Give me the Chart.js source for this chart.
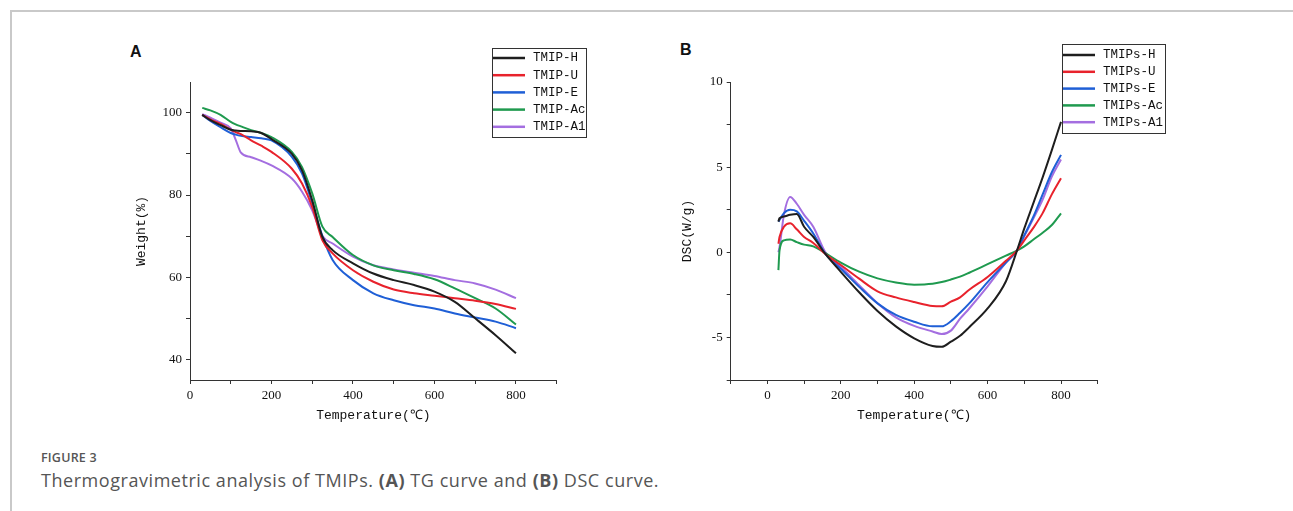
<!DOCTYPE html>
<html>
<head>
<meta charset="utf-8">
<script src="https://cdn.jsdelivr.net/npm/chart.js@4.4.0/dist/chart.umd.min.js"></script>
<style>
  body { margin: 0; background: #fff; width: 1293px; height: 511px; overflow: hidden; position: relative; }
  .frame { position: absolute; left: 10px; top: 10px; right: 0; bottom: 0; border-top: 2px solid #c9c9c9; border-left: 2px solid #c9c9c9; }
  .panel { position: absolute; }
  .letter { position: absolute; font: bold 16px "Liberation Sans", Arial, sans-serif; color: #111; }
  .fig { position: absolute; left: 41px; top: 449px; font: 600 12.5px "Open Sans", sans-serif; color: #555; letter-spacing: 0.2px; }
  .cap { position: absolute; left: 41px; top: 468px; font: 18px "Open Sans", sans-serif; color: #555; letter-spacing: 0.55px; }
  .cap b { font-weight: 700; }
</style>
</head>
<body>
<div class="frame"></div>
<div class="letter" style="left:130px;top:43px">A</div>
<div class="letter" style="left:680px;top:41px">B</div>
<div class="panel" style="left:120px;top:40px;width:480px;height:410px"><canvas id="tg"></canvas></div>
<div class="panel" style="left:670px;top:40px;width:510px;height:410px"><canvas id="dsc"></canvas></div>
<div class="fig">FIGURE 3</div>
<div class="cap">Thermogravimetric analysis of TMIPs. <b>(A)</b> TG curve and <b>(B)</b> DSC curve.</div>
<script>
// TG curve (A)
const tgTemp = [30, 50, 75, 100, 112, 125, 150, 175, 200, 250, 275, 300, 325, 350, 400, 450, 500, 550, 600, 650, 700, 750, 800];
const tgH  = [99.5, 98.2, 97.0, 95.9, 95.7, 95.6, 95.5, 95.1, 93.6, 90.0, 86.0, 78.7, 69.8, 66.6, 63.4, 60.9, 59.3, 58.1, 56.5, 54.0, 50.0, 45.9, 41.5];
const tgU  = [99.5, 98.4, 97.3, 95.9, 95.3, 94.8, 93.3, 92.0, 90.5, 86.4, 82.8, 77.1, 69.0, 65.8, 61.7, 58.9, 57.0, 56.1, 55.5, 54.9, 54.3, 53.5, 52.3];
const tgE  = [99.5, 98.0, 96.5, 95.1, 94.7, 94.4, 94.1, 93.8, 93.3, 89.3, 85.2, 78.0, 70.0, 64.2, 59.3, 56.1, 54.4, 53.2, 52.4, 51.2, 50.2, 49.2, 47.6];
const tgAc = [101.2, 100.6, 99.5, 97.8, 97.2, 96.7, 95.8, 95.1, 94.1, 90.5, 86.8, 80.4, 72.3, 69.8, 65.4, 62.9, 61.7, 60.8, 59.5, 57.3, 54.9, 52.4, 48.5];
const tgA1 = [99.7, 98.8, 97.6, 96.2, 93.5, 90.3, 89.2, 88.3, 87.2, 84.0, 80.8, 76.3, 70.0, 68.2, 65.0, 62.9, 61.9, 61.1, 60.3, 59.3, 58.5, 57.0, 54.9];
const tgNames = ['TMIP-H', 'TMIP-U', 'TMIP-E', 'TMIP-Ac', 'TMIP-A1'];
const tgXTicks = [0, 100, 200, 300, 400, 500, 600, 700, 800, 900];
const tgXLabels = ['0', '200', '400', '600', '800'];
const tgYTicks = [40, 50, 60, 70, 80, 90, 100];
const tgYLabels = ['40', '60', '80', '100'];

// DSC curve (B)
const dscTemp = [30, 33, 45, 62, 80, 100, 125, 158, 200, 250, 300, 350, 400, 450, 475, 500, 525, 550, 600, 650, 680, 700, 725, 750, 775, 800];
const dscH  = [1.8, 2.0, 2.1, 2.2, 2.25, 1.5, 0.9, -0.1, -1.15, -2.35, -3.45, -4.35, -5.05, -5.5, -5.55, -5.25, -4.9, -4.4, -3.3, -1.7, 0.1, 1.4, 2.9, 4.4, 6.0, 7.66];
const dscU  = [0.5, 0.9, 1.5, 1.7, 1.35, 0.9, 0.55, -0.1, -0.75, -1.55, -2.29, -2.65, -2.92, -3.15, -3.17, -2.9, -2.65, -2.2, -1.45, -0.5, 0.1, 0.7, 1.45, 2.3, 3.4, 4.35];
const dscE  = [1.8, 1.9, 2.3, 2.5, 2.4, 1.85, 1.1, -0.1, -0.97, -2.03, -3.0, -3.68, -4.08, -4.35, -4.35, -4.05, -3.55, -3.0, -1.75, -0.6, 0.1, 1.0, 2.1, 3.4, 4.7, 5.72];
const dscAc = [-1.05, 0.1, 0.7, 0.75, 0.6, 0.45, 0.35, -0.05, -0.6, -1.14, -1.53, -1.77, -1.9, -1.85, -1.75, -1.6, -1.43, -1.2, -0.7, -0.2, 0.1, 0.35, 0.75, 1.15, 1.6, 2.29];
const dscA1 = [0.0, 0.3, 2.2, 3.25, 2.85, 2.2, 1.5, 0.0, -0.85, -1.93, -2.99, -3.82, -4.32, -4.65, -4.8, -4.6, -3.9, -3.3, -2.0, -0.6, 0.1, 0.95, 2.0, 3.1, 4.45, 5.45];
const dscNames = ['TMIPs-H', 'TMIPs-U', 'TMIPs-E', 'TMIPs-Ac', 'TMIPs-A1'];
const dscXTicks = [-100, 0, 100, 200, 300, 400, 500, 600, 700, 800, 900];
const dscXLabels = ['0', '200', '400', '600', '800'];
const dscYTicks = [-7.5, -5, -2.5, 0, 2.5, 5, 7.5, 10];
const dscYLabels = ['-5', '0', '5', '10'];

const colors = ['#1e1e1e', '#e8222c', '#1f5fd6', '#1f9a4f', '#a46ee0'];
const mono = '"Liberation Mono", "DejaVu Sans Mono", monospace';
const serif = '"Liberation Serif", "DejaVu Serif", serif';

function makeSets(temps, series, names, width) {
  return series.map((vals, i) => ({
    label: names[i],
    data: temps.map((t, j) => ({ x: t, y: vals[j] })),
    borderColor: colors[i],
    backgroundColor: colors[i],
    borderWidth: width,
    pointRadius: 0,
    cubicInterpolationMode: 'monotone',
    fill: false
  }));
}

// legend box drawn in the top-right, like the original figure
const boxLegend = {
  id: 'boxLegend',
  afterDraw(chart, args, opts) {
    const ctx = chart.ctx;
    ctx.save();
    ctx.strokeStyle = '#333';
    ctx.lineWidth = 1;
    ctx.strokeRect(opts.x + 0.5, opts.y + 0.5, opts.w, opts.h);
    ctx.font = '12.5px ' + mono;
    ctx.textBaseline = 'middle';
    ctx.fillStyle = '#111';
    chart.data.datasets.forEach((ds, i) => {
      const yy = opts.y + opts.first + i * opts.step;
      ctx.strokeStyle = ds.borderColor;
      ctx.lineWidth = 2.5;
      ctx.beginPath();
      ctx.moveTo(opts.x + 1, yy);
      ctx.lineTo(opts.x + 33, yy);
      ctx.stroke();
      ctx.fillText(ds.label, opts.x + 41, yy);
    });
    ctx.restore();
  }
};

function axis(min, max, ticks, labels, title, fit, isX) {
  return {
    type: 'linear',
    min: min,
    max: max,
    afterBuildTicks: s => { s.ticks = ticks.map(v => ({ value: v })); },
    afterFit: s => { if (isX) s.height = fit; else s.width = fit; },
    grid: { drawOnChartArea: false, tickLength: 4, tickColor: '#333', tickWidth: 1 },
    border: { color: '#333', width: 1 },
    ticks: {
      autoSkip: false,
      maxRotation: 0,
      padding: 4,
      color: '#111',
      font: { family: serif, size: 13 },
      callback: v => labels.includes(String(v)) ? String(v) : ''
    },
    title: { display: true, text: title, color: '#111', padding: 0, font: { family: mono, size: 13 } }
  };
}

new Chart(document.getElementById('tg'), {
  type: 'line',
  data: { datasets: makeSets(tgTemp, [tgH, tgU, tgE, tgAc, tgA1], tgNames, 2) },
  options: {
    responsive: true,
    maintainAspectRatio: false,
    animation: false,
    layout: { padding: { left: 13.5, right: 43.3, top: 42, bottom: 27 } },
    plugins: {
      legend: { display: false },
      tooltip: { enabled: false },
      boxLegend: { x: 372, y: 8, w: 94, h: 89, first: 10, step: 17.2 }
    },
    scales: {
      x: axis(0, 900, tgXTicks, tgXLabels, 'Temperature(℃)', 43, true),
      y: axis(35, 107.5, tgYTicks, tgYLabels, 'Weight(%)', 56.5, false)
    }
  },
  plugins: [boxLegend]
});

new Chart(document.getElementById('dsc'), {
  type: 'line',
  data: { datasets: makeSets(dscTemp, [dscH, dscU, dscE, dscAc, dscA1], dscNames, 2) },
  options: {
    responsive: true,
    maintainAspectRatio: false,
    animation: false,
    layout: { padding: { left: 9.5, right: 82.3, top: 42, bottom: 27 } },
    plugins: {
      legend: { display: false },
      tooltip: { enabled: false },
      boxLegend: { x: 392, y: 4, w: 103, h: 89, first: 11, step: 16.8 }
    },
    scales: {
      x: axis(-100, 900, dscXTicks, dscXLabels, 'Temperature(℃)', 43, true),
      y: axis(-7.5, 10, dscYTicks, dscYLabels, 'DSC(W/g)', 51.2, false)
    }
  },
  plugins: [boxLegend]
});
</script>
</body>
</html>
